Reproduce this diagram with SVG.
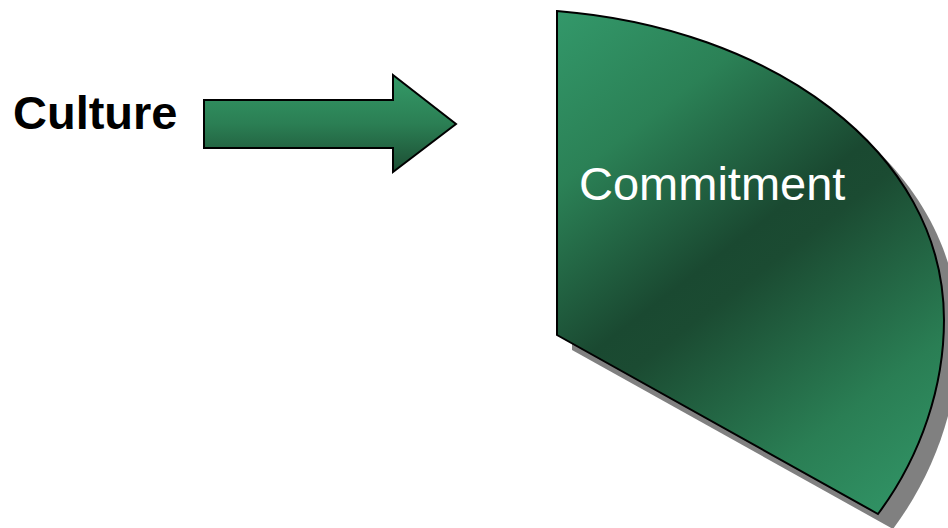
<svg xmlns="http://www.w3.org/2000/svg" width="948" height="528" viewBox="0 0 948 528">
  <style>
    .lbl { font-family: "Liberation Sans", Arial, sans-serif; font-size: 47px; }
    .outline { stroke: #000; stroke-width: 2; stroke-linejoin: miter; }
  </style>
  <defs>
    <linearGradient id="arrowGrad" x1="0" y1="0" x2="0" y2="1">
      <stop offset="0" stop-color="#349A68"/>
      <stop offset="0.5" stop-color="#2B7F54"/>
      <stop offset="1" stop-color="#1C4D33"/>
    </linearGradient>
    <linearGradient id="wedgeGrad" gradientUnits="userSpaceOnUse" x1="557" y1="11" x2="944" y2="515">
      <stop offset="0" stop-color="#33986A"/>
      <stop offset="0.22" stop-color="#2B8156"/>
      <stop offset="0.46" stop-color="#1A4931"/>
      <stop offset="0.52" stop-color="#1B4B32"/>
      <stop offset="0.78" stop-color="#2A7E54"/>
      <stop offset="1" stop-color="#33996A"/>
    </linearGradient>
    <path id="wedgeShape" d="M557,11 C770,28 944,150 944,320 C944,385 922,455 878,514 L557,335 Z"/>
  </defs>

  <g id="culture">
    <text class="lbl" x="13" y="129" font-weight="bold" fill="#000">Culture</text>
  </g>

  <g id="connectors">
    <path id="arrow" class="outline" fill="url(#arrowGrad)" d="M204,100 L393,100 L393,75 L456,124 L393,172 L393,148 L204,148 Z"/>
  </g>

  <g id="commitment">
    <use href="#wedgeShape" fill="#808080" transform="translate(15,15)"/>
    <use href="#wedgeShape" fill="url(#wedgeGrad)" stroke="#000" stroke-width="2"/>
    <text class="lbl" x="579" y="200" fill="#fff">Commitment</text>
  </g>
</svg>
